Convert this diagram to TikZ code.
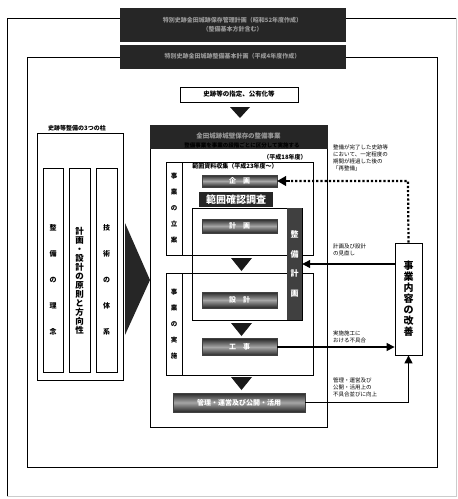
\documentclass[tikz,border=0pt]{standalone}
\usepackage{fontspec}
\setmainfont{Noto Sans CJK JP}
\usetikzlibrary{arrows.meta}

\begin{document}
\begin{tikzpicture}[x=1pt,y=-1pt,
  darkbox/.style={fill=black!85,draw=black!85,inner sep=0pt,align=center,text=black!40,font=\fontsize{6}{9}\selectfont\bfseries},
  metalbar/.style={draw=black!75,top color=black!85,bottom color=black!85,middle color=black!35,inner sep=0pt,text=white,font=\fontsize{7}{8}\selectfont\bfseries},
  note/.style={align=left,inner sep=0pt,anchor=north west,font=\fontsize{5.5}{7}\selectfont},
  arr/.style={line width=1.2pt,-{Triangle[length=8pt,width=8pt]}},
  tate/.style={align=center,inner sep=0pt}]
  \useasboundingbox[fill=white] (0,0) rectangle (458,499);
  % frames
  \draw[gray!40,line width=0.8pt] (456,18) -- (456,496) -- (7,496);
  \draw[line width=0.8pt] (7,496) -- (7,18) -- (456,18);
  \draw[line width=0.8pt] (27,57) rectangle (437,467);
  \node[darkbox,minimum width=225pt,minimum height=33pt] (planA) at (232.5,24.5)
    {特別史跡金田城跡保存管理計画（昭和52年度作成）\\（整備基本方針含む）};
  \node[darkbox,minimum width=225pt,minimum height=23pt] (planB) at (232.5,56.5)
    {特別史跡金田城跡整備基本計画（平成4年度作成）};
  \node[draw,line width=0.8pt,minimum width=118pt,minimum height=15pt,inner sep=0pt,font=\fontsize{6.5}{8}\selectfont\bfseries] (shitei) at (239,94.5) {史跡等の指定、公有化等};
  % three pillars
  \node[inner sep=0pt,font=\fontsize{6}{7}\selectfont\bfseries] (hashira) at (77,128) {史跡等整備の3つの柱};
  \draw[line width=0.8pt] (37,133) rectangle (123,380);
  \draw[line width=0.8pt] (43,168) rectangle (63,372) (69,168) rectangle (90,372) (96,168) rectangle (117,372);
  \node[tate,font=\fontsize{7}{26}\selectfont\bfseries] (rinen) at (53,280) {整\\備\\の\\理\\念};
  \node[tate,font=\fontsize{8.5}{9}\selectfont\bfseries] (gensoku) at (79.5,281) {計\\画\\・\\設\\計\\の\\原\\則\\と\\方\\向\\性};
  \node[tate,font=\fontsize{7}{26}\selectfont\bfseries] (taikei) at (106.5,280) {技\\術\\の\\体\\系};
  \fill[black!85] (125,223) -- (150,280) -- (125,335) -- cycle;
  % project frame
  \draw[line width=0.8pt] (150,125) rectangle (327,427);
  \node[darkbox,minimum width=177pt,minimum height=23pt,font=\fontsize{6.5}{8}\selectfont\bfseries] (jigyo) at (238.5,136.5) {金田城跡城壁保存の整備事業};
  \node[inner sep=0pt,font=\fontsize{5.5}{6}\selectfont\bfseries] (sub) at (242,145) {整備事業を事業の段階ごとに区分して実施する};
  \node[inner sep=0pt,font=\fontsize{6}{7}\selectfont\bfseries] (nendo) at (285,157) {（平成18年度）};
  \draw[line width=0.8pt] (166,162) rectangle (313,255) (182,162) -- (182,255);
  \draw[line width=0.8pt] (166,273) rectangle (313,375) (182,273) -- (182,375);
  \node[tate,font=\fontsize{6.5}{16}\selectfont\bfseries] (ritsuan) at (174,208) {事\\業\\の\\立\\案};
  \node[tate,font=\fontsize{6.5}{16}\selectfont\bfseries] (jisshi) at (174,324) {事\\業\\の\\実\\施};
  \node[inner sep=0pt,font=\fontsize{6}{7}\selectfont\bfseries] (shiryo) at (235,166) {範囲資料収集（平成23年度～）};
  \node[metalbar,minimum width=75pt,minimum height=12pt] (kikaku) at (239.5,181) {企　画};
  \node[fill=black!85,inner sep=0pt,minimum width=74pt,minimum height=15pt,text=white,font=\fontsize{10}{11}\selectfont\bfseries] (hani) at (236,199.5) {範囲確認調査};
  \draw[line width=0.8pt] (192,208) rectangle (302,320);
  \node[fill=black!75,inner sep=0pt,minimum width=15pt,minimum height=112pt] (seibi) at (294.5,264) {};
  \node[tate,text=white,font=\fontsize{8}{19.5}\selectfont\bfseries] at (seibi) {整\\備\\計\\画};
  \node[metalbar,minimum width=75pt,minimum height=14pt] (keikaku) at (239.5,226) {計　画};
  \node[metalbar,minimum width=75pt,minimum height=16pt] (sekkei) at (239.5,300) {設　計};
  \node[metalbar,minimum width=75pt,minimum height=17pt] (kouji) at (239.5,347) {工　事};
  \node[metalbar,minimum width=132pt,minimum height=19pt] (kanri) at (239,402.5) {管理・運営及び公開・活用};
  % down arrows
  \fill[black!90] (230,107) -- (250,107) -- (240,118) -- cycle;
  \foreach \y in {258,323,377}
    \fill[black!90] (231,\y) -- (252,\y) -- (241.5,\y+13) -- cycle;
  % improvement
  \node[draw,line width=0.8pt,fill=white,minimum width=27pt,minimum height=112pt,inner sep=0pt] (kaizen) at (408.5,299) {};
  \node[tate,font=\fontsize{10}{11}\selectfont\bfseries] at (kaizen) {事\\業\\内\\容\\の\\改\\善};
  \draw[line width=2.2pt,dotted] (kaizen.north) -- (408,181) -- (290,181);
  \draw[-{Triangle[length=9pt,width=10pt]},line width=1.2pt] (290,181) -- (kikaku.east);
  \draw[arr] (kaizen.west |- seibi.east) -- (seibi.east);
  \draw[arr] (kouji.east) -- (kaizen.west |- kouji.east);
  \draw[arr] (kanri.east) -| (kaizen.south);
  \node[note] (n1) at (333,145) {整備が完了した史跡等\\において、一定程度の\\期間が経過した後の\\「再整備」};
  \node[note] (n2) at (333,244) {計画及び設計\\の見直し};
  \node[note] (n3) at (333,331) {実施施工に\\おける不具合};
  \node[note] (n4) at (333,378) {管理・運営及び\\公開・活用上の\\不具合並びに向上};
\end{tikzpicture}
\end{document}
